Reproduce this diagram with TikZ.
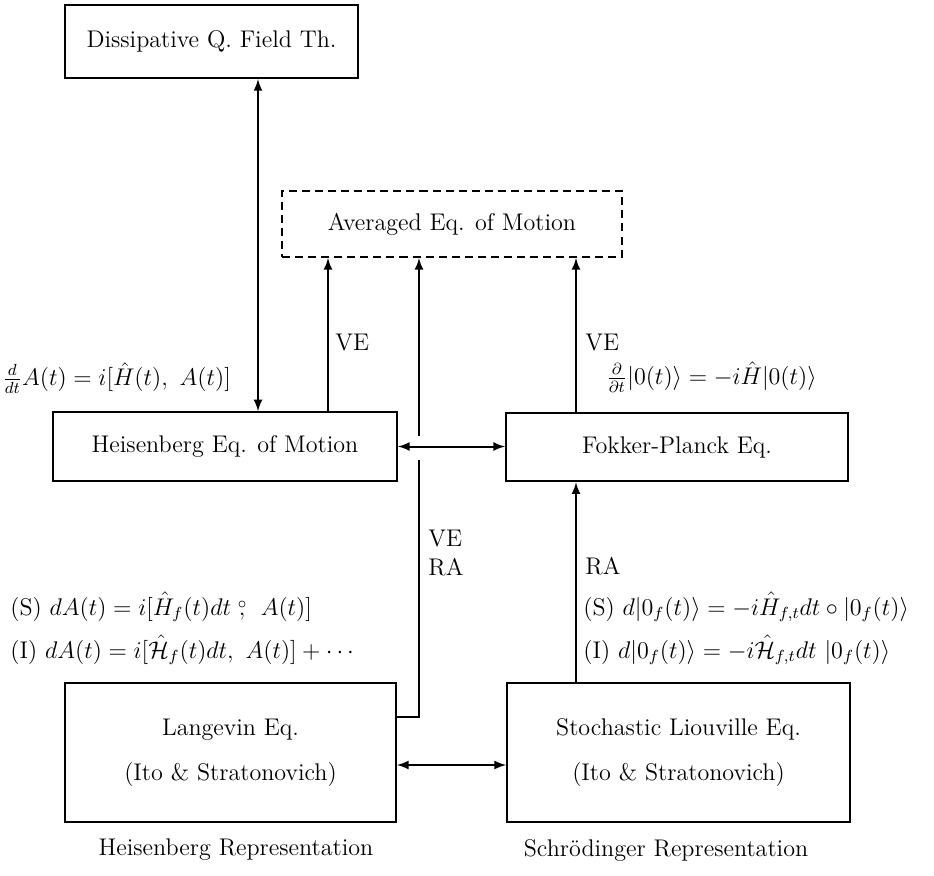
\documentclass[tikz,border=0pt]{standalone}
\begin{document}
\begin{tikzpicture}[x=0.0175cm,y=-0.0175cm,
    every node/.style={font=\large},
    eqbox/.style={draw,line width=1pt,inner sep=0pt},
    avgbox/.style={draw,line width=1pt,dash pattern=on 4pt off 2.5pt,inner sep=0pt},
    lbl/.style={anchor=west,inner sep=0pt},
    conn/.style={line width=1pt}]
\useasboundingbox (0,0) rectangle (934,875);

\node[eqbox,minimum width=5.13cm,minimum height=1.28cm] (diss) at (211.5,41.5) {Dissipative Q. Field Th.};
\node[avgbox,minimum width=5.95cm,minimum height=1.155cm] (avg) at (452,224) {Averaged Eq. of Motion};
\node[eqbox,minimum width=6.02cm,minimum height=1.2cm] (heis) at (225,446.5) {Heisenberg Eq. of Motion};
\node[eqbox,minimum width=5.985cm,minimum height=1.2cm] (fokker) at (677,447) {Fokker-Planck Eq.};
\node[eqbox,minimum width=5.79cm,minimum height=2.43cm,align=center] (langevin) at (230.5,752.5)
    {Langevin Eq.\\[3mm](Ito \& Stratonovich)};
\node[eqbox,minimum width=6.0cm,minimum height=2.43cm,align=center] (liouville) at (678.5,752.5)
    {Stochastic Liouville Eq.\\[3mm](Ito \& Stratonovich)};

\node[inner sep=0pt] (heisrep) at (236,850) {Heisenberg Representation};
\node[inner sep=0pt] (schrep) at (666,850) {Schr\"odinger Representation};

\node[lbl] (heiseq) at (2,378) {$\frac{d}{dt}A(t)=i[\hat{H}(t),\ A(t)]$};
\node[lbl] (ve1) at (335,343) {VE};
\node[lbl] (ve2) at (585,343) {VE};
\node[lbl] (fokeq) at (606,377) {$\frac{\partial}{\partial t}|0(t)\rangle=-i\hat{H}|0(t)\rangle$};
\node[lbl,align=left] (vera) at (428,553) {VE\\RA};
\node[lbl] (ra) at (585,566) {RA};
\node[lbl] (langs) at (10,607) {(S) $dA(t)=i[\hat{H}_f(t)dt\stackrel{\circ}{,}\ A(t)]$};
\node[lbl] (langi) at (10,650) {(I) $dA(t)=i[\hat{\mathcal{H}}_f(t)dt,\ A(t)]+\cdots$};
\node[lbl] (liouvs) at (583,607) {(S) $d|0_f(t)\rangle=-i\hat{H}_{f,t}dt\circ|0_f(t)\rangle$};
\node[lbl] (liouvi) at (583,650) {(I) $d|0_f(t)\rangle=-i\hat{\mathcal{H}}_{f,t}dt\ |0_f(t)\rangle$};

\coordinate (dh) at (258,0);
\coordinate (hv) at (328,0);
\coordinate (fv) at (576,0);
\coordinate (bend) at (419,717);
\coordinate (gaplo) at (419,460);
\coordinate (gaphi) at (419,436);
\coordinate (bot) at (450,765);

\draw[conn,latex-latex] (diss.south -| dh) -- (heis.north -| dh);
\draw[conn,-latex] (heis.north -| hv) -- (avg.south -| hv);
\draw[conn,-latex] (fokker.north -| fv) -- (avg.south -| fv);
\draw[conn,-latex] (liouville.north -| fv) -- (fokker.south -| fv);
\draw[conn,latex-latex] (heis.east) -- (fokker.west |- heis.east);
\draw[conn,latex-latex] (langevin.east |- bot) -- (liouville.west |- bot);
\draw[conn] (bend -| langevin.east) -- (bend) -- (gaplo);
\draw[conn,-latex] (gaphi) -- (avg.south -| gaphi);
\end{tikzpicture}
\end{document}
